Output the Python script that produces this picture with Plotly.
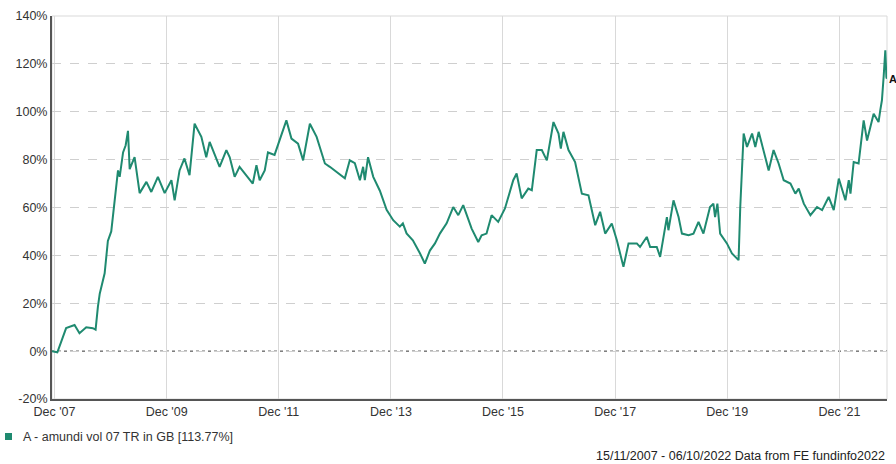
import plotly.graph_objects as go

dates = [
    "2007-11-15", "2007-12-01", "2007-12-20", "2008-02-15", "2008-04-10", "2008-05-12", "2008-06-25",
    "2008-08-07", "2008-08-25", "2008-09-09", "2008-09-21", "2008-10-23", "2008-11-13", "2008-12-05",
    "2008-12-27", "2009-01-18", "2009-01-29", "2009-02-20", "2009-03-09", "2009-03-24", "2009-04-04",
    "2009-05-06", "2009-06-08", "2009-07-22", "2009-08-23", "2009-10-05", "2009-11-18", "2010-01-01",
    "2010-01-22", "2010-02-23", "2010-03-27", "2010-04-29", "2010-06-01", "2010-07-15", "2010-08-16",
    "2010-09-07", "2010-11-11", "2010-12-25", "2011-01-16", "2011-02-17", "2011-03-21", "2011-05-26",
    "2011-06-15", "2011-07-09", "2011-07-30", "2011-09-01", "2011-09-22", "2011-11-04", "2011-12-07",
    "2012-01-20", "2012-02-22", "2012-04-05", "2012-05-08", "2012-06-21", "2012-08-04", "2012-09-27",
    "2012-10-29", "2013-01-03", "2013-02-04", "2013-03-08", "2013-04-10", "2013-05-13", "2013-06-03",
    "2013-06-14", "2013-07-05", "2013-08-08", "2013-09-20", "2013-11-03", "2013-12-16", "2014-01-28",
    "2014-02-17", "2014-03-13", "2014-04-23", "2014-06-08", "2014-07-10", "2014-08-12", "2014-09-14",
    "2014-10-17", "2014-11-29", "2015-01-11", "2015-02-13", "2015-03-17", "2015-05-11", "2015-06-23",
    "2015-07-15", "2015-08-16", "2015-09-18", "2015-10-31", "2015-12-14", "2016-02-06", "2016-02-28",
    "2016-04-01", "2016-05-14", "2016-06-06", "2016-07-08", "2016-08-10", "2016-09-12", "2016-10-25",
    "2016-11-27", "2016-12-12", "2016-12-29", "2017-01-31", "2017-03-15", "2017-04-28", "2017-06-10",
    "2017-07-24", "2017-08-25", "2017-09-27", "2017-11-09", "2017-12-12", "2018-01-24", "2018-02-26",
    "2018-04-21", "2018-05-12", "2018-06-25", "2018-07-17", "2018-08-29", "2018-09-20", "2018-11-03",
    "2018-11-13", "2018-12-16", "2019-01-18", "2019-02-09", "2019-03-24", "2019-04-25", "2019-05-28",
    "2019-06-29", "2019-08-11", "2019-09-02", "2019-09-13", "2019-09-28", "2019-10-16", "2019-11-29",
    "2020-01-01", "2020-02-13", "2020-02-24", "2020-03-17", "2020-04-08", "2020-05-11", "2020-06-01",
    "2020-06-23", "2020-08-05", "2020-08-27", "2020-09-28", "2020-10-31", "2020-12-03", "2021-01-16",
    "2021-02-17", "2021-03-11", "2021-04-13", "2021-05-26", "2021-07-08", "2021-08-10", "2021-09-22",
    "2021-10-25", "2021-11-27", "2022-01-09", "2022-01-31", "2022-02-11", "2022-03-04", "2022-04-05",
    "2022-05-08", "2022-05-30", "2022-07-12", "2022-08-13", "2022-08-24", "2022-09-04", "2022-09-15",
    "2022-09-22", "2022-09-26", "2022-10-03", "2022-10-06",
]

values = [
    0.0, -0.3, -0.5, 9.6, 10.9, 7.5, 10.0,
    9.6, 9.0, 18.5, 24.0, 32.5, 46.0, 50.0,
    62.0, 75.5, 72.8, 83.0, 86.0, 92.0, 76.0,
    81.0, 66.0, 70.7, 66.5, 72.8, 66.0, 71.4,
    63.0, 75.5, 80.5, 73.5, 95.0, 89.5, 81.0,
    87.4, 77.0, 84.0, 81.0, 72.8, 77.0, 71.4,
    70.0, 77.7, 71.4, 75.5, 83.0, 82.0, 88.0,
    96.4, 88.8, 86.7, 79.7, 95.0, 89.5, 78.4,
    77.0, 73.5, 72.2, 79.7, 78.5, 71.4, 77.0,
    71.4, 81.0, 72.8, 67.0, 59.0, 54.7, 52.0,
    53.4, 49.2, 46.3, 40.9, 36.6, 42.0, 45.0,
    49.2, 53.4, 60.2, 56.8, 61.0, 51.2, 45.6,
    48.4, 49.1, 56.8, 54.0, 59.6, 71.4, 74.2,
    63.8, 67.9, 67.2, 84.0, 84.0, 79.7, 95.7,
    90.9, 84.6, 91.6, 84.0, 79.0, 65.8, 65.1,
    52.6, 58.2, 49.1, 53.3, 46.3, 35.2, 45.0,
    45.0, 43.5, 47.7, 43.5, 43.5, 39.4, 56.0,
    50.5, 63.0, 56.0, 49.1, 48.4, 49.1, 54.0,
    49.1, 60.2, 61.6, 56.0, 61.6, 49.1, 45.0,
    40.8, 38.0, 60.2, 90.9, 85.3, 90.9, 85.3,
    91.6, 81.0, 75.5, 84.0, 78.4, 71.4, 70.0,
    65.8, 67.9, 61.6, 56.8, 60.2, 58.9, 64.4,
    58.9, 72.1, 63.0, 71.4, 65.8, 79.0, 78.4,
    96.4, 88.0, 99.2, 95.7, 100.6, 104.8, 114.5,
    121.5, 125.7, 114.5, 113.77,
]

tick_dates = ["2007-12-01", "2009-12-01", "2011-12-01", "2013-12-01",
              "2015-12-01", "2017-12-01", "2019-12-01", "2021-12-01"]
tick_labels = ["Dec '07", "Dec '09", "Dec '11", "Dec '13",
               "Dec '15", "Dec '17", "Dec '19", "Dec '21"]
y_ticks = [-20, 0, 20, 40, 60, 80, 100, 120, 140]
y_labels = ["-20%", "0%", "20%", "40%", "60%", "80%", "100%", "120%", "140%"]

series_name = "A - amundi vol 07 TR in GB [113.77%]"
footer = "15/11/2007 - 06/10/2022 Data from FE fundinfo2022"

LINE = "#1f8a70"
FONT = "Liberation Sans, Arial, sans-serif"
FS = 12.5

fig = go.Figure()
fig.add_trace(go.Scatter(
    x=dates, y=values, mode="lines",
    line=dict(color=LINE, width=2),
    showlegend=False, hoverinfo="skip",
))

fig.update_layout(
    width=896, height=464,
    margin=dict(l=52, r=9, t=16, b=65),
    paper_bgcolor="white", plot_bgcolor="white",
    font=dict(family=FONT, size=FS, color="#333333"),
    showlegend=False,
    xaxis=dict(
        type="date",
        range=["2007-11-15", "2022-10-07"],
        tickvals=tick_dates, ticktext=tick_labels,
        showgrid=True, gridcolor="#d9d9d9", gridwidth=1,
        showline=True, linecolor="#555555", linewidth=2,
        zeroline=False, ticks="", tickfont=dict(size=FS, color="#333333"),
    ),
    yaxis=dict(
        range=[-20, 140],
        tickvals=y_ticks, ticktext=y_labels,
        showgrid=True, gridcolor="#cfcfcf", gridwidth=1, griddash="dash",
        showline=True, linecolor="#555555", linewidth=2,
        zeroline=False, ticks="", tickfont=dict(size=FS, color="#333333"),
    ),
    shapes=[
        dict(type="rect", xref="paper", yref="paper", x0=0, x1=1, y0=0, y1=1,
             line=dict(color="#d9d9d9", width=1), layer="below"),
        dict(type="line", xref="paper", yref="y", x0=0, x1=1, y0=0, y1=0,
             line=dict(color="#333333", width=1, dash="dot"), layer="below"),
        dict(type="rect", xref="paper", yref="paper",
             x0=-47 / 835, x1=-40 / 835, y0=-34 / 383, y1=-41 / 383,
             line=dict(width=0), fillcolor=LINE),
    ],
    annotations=[
        dict(text=series_name, xref="paper", yref="paper",
             x=-31 / 835, y=-37.5 / 383, xanchor="left", yanchor="middle",
             showarrow=False, font=dict(size=FS, color="#333333")),
        dict(text=footer, xref="paper", yref="paper",
             x=1, y=-57 / 383, xanchor="right", yanchor="middle",
             showarrow=False, font=dict(size=FS, color="#222222")),
        dict(text="<b>A</b>", xref="x", yref="y",
             x=dates[-1], y=values[-1], xanchor="left", yanchor="middle",
             xshift=0, showarrow=False, font=dict(size=11, color="#111111")),
    ],
)

fig.write_html(
    "out.html",
    config={"displayModeBar": False},
    post_script="document.body.style.margin='0';document.body.style.overflow='hidden';",
)
